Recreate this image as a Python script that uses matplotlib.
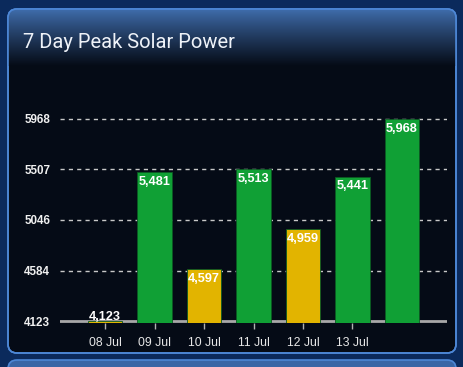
import numpy as np
import matplotlib
matplotlib.use("Agg")
import matplotlib.pyplot as plt
from matplotlib.patches import FancyBboxPatch

# ---- data ----
days = ["08 Jul", "09 Jul", "10 Jul", "11 Jul", "12 Jul", "13 Jul", ""]
values = [4123, 5481, 4597, 5513, 4959, 5441, 5968]
bar_colors = ["#e2b400", "#10a035", "#e2b400", "#10a035", "#e2b400", "#10a035", "#10a035"]
y_ticks = [4123, 4584, 5046, 5507, 5968]
title = "7 Day Peak Solar Power"

W, H = 464, 367
fig = plt.figure(figsize=(W / 100, H / 100), dpi=100)
fig.patch.set_facecolor("#0b2a5c")

# background layer in pixel coordinates
bg = fig.add_axes([0, 0, 1, 1])
bg.set_xlim(0, W)
bg.set_ylim(H, 0)
bg.axis("off")

panel = FancyBboxPatch((8, 9), 448, 344, boxstyle="round,pad=0,rounding_size=9",
                       facecolor="#050b16", edgecolor="#4d87d6", linewidth=1.2, zorder=1)
bg.add_patch(panel)
grad = np.linspace(0, 1, 256).reshape(-1, 1)
top = np.array([0x40, 0x6e, 0xae]) / 255
bot = np.array([0x05, 0x0b, 0x16]) / 255
t = grad ** 0.9
cols = top[None, None, :] * (1 - t[..., None]) + bot[None, None, :] * t[..., None]
im = bg.imshow(cols, extent=(8, 456, 66, 9), aspect="auto", zorder=2, interpolation="bilinear")
im.set_clip_path(panel)
border = FancyBboxPatch((8, 9), 448, 344, boxstyle="round,pad=0,rounding_size=9",
                        facecolor="none", edgecolor="#4d87d6", linewidth=1.2, zorder=3)
bg.add_patch(border)

panel2 = FancyBboxPatch((8, 360), 448, 40, boxstyle="round,pad=0,rounding_size=9",
                        facecolor="#3a66a6", edgecolor="#4d87d6", linewidth=1.2, zorder=1)
bg.add_patch(panel2)

bg.text(23, 42, title, color="#eef2f8", fontsize=14.5, family="Roboto",
        fontweight="normal", va="center", ha="left", zorder=4)

# ---- chart ----
ymin, ymax = 4105, 6050
ax = fig.add_axes([60 / W, (H - 323) / H, (447 - 60) / W, 213 / H])
ax.set_facecolor("none")
x = np.arange(len(values))
ax.set_xlim(-0.91, 6.91)
ax.set_ylim(ymin, ymax)

for yt in y_ticks[1:]:
    ax.axhline(yt, color="#c8c8c8", lw=1, ls=(0, (3, 3)), zorder=1)
ax.axhline(y_ticks[0], color="#a8a8a8", lw=2, zorder=1)

heights = [v - ymin for v in values]
ax.bar(x, heights, bottom=ymin, width=0.69, color=bar_colors, edgecolor="#0a5a22",
       linewidth=0.6, zorder=2)

for xi, v in zip(x, values):
    lab = f"{v:,}"
    dy = -7 if v - ymin > 150 else 3
    ax.annotate(lab, (xi, v), xytext=(0, dy), textcoords="offset points",
                ha="center", va="center", color="white", fontsize=9.2,
                family="Liberation Sans", fontweight="bold", zorder=3)

ax.set_yticks(y_ticks)
ax.set_yticklabels([str(v) for v in y_ticks], color="#f0f0f0", fontsize=8.4,
                   family="Liberation Sans", fontweight="bold")
ax.set_xticks(x[:6])
ax.set_xticklabels(days[:6], color="#e6e6e6", fontsize=8.8, family="Liberation Sans")
ax.tick_params(axis="y", length=0, pad=7)
ax.tick_params(axis="x", length=4, color="#b0b0b0", width=1, pad=6)
for s in ax.spines.values():
    s.set_visible(False)

fig.savefig("out.png", dpi=100, facecolor=fig.get_facecolor())
